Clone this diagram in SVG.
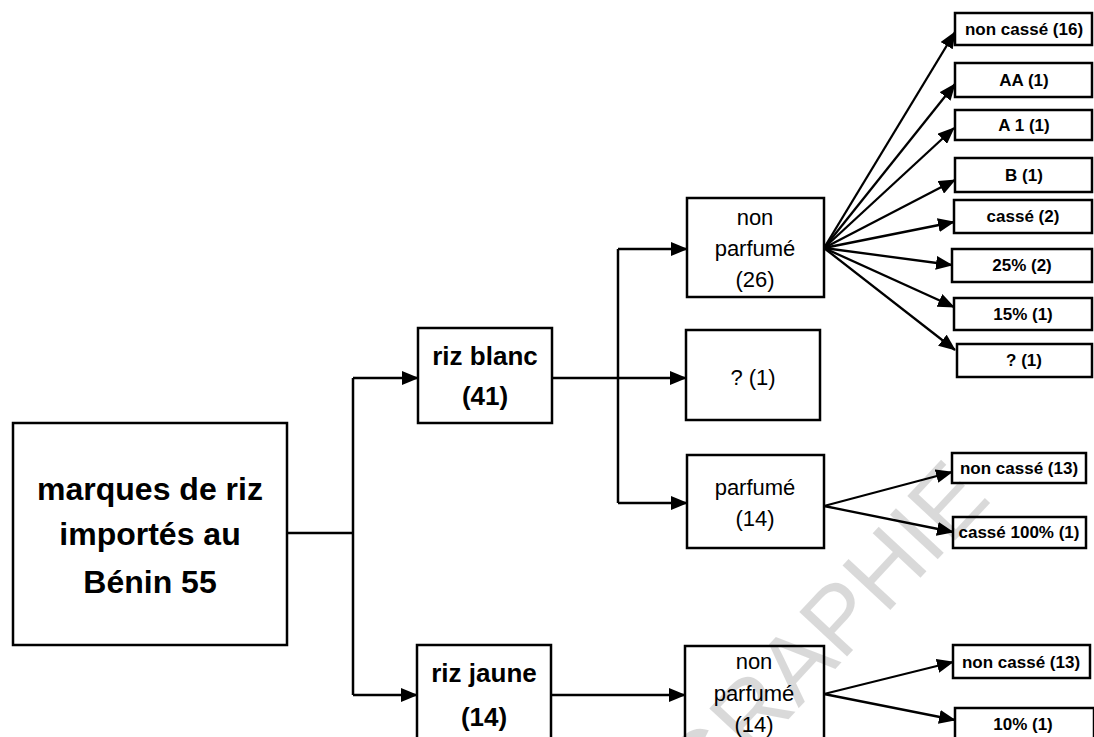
<svg xmlns="http://www.w3.org/2000/svg" width="1094" height="737" viewBox="0 0 1094 737">
<defs>
<marker id="ah" markerUnits="userSpaceOnUse" markerWidth="17" markerHeight="14" refX="16" refY="7" orient="auto">
<path d="M0,0 L17,7 L0,14 z" fill="#000"/>
</marker>
<style>
.box{fill:#fff;stroke:#000;stroke-width:2.5}
.ln{fill:none;stroke:#000;stroke-width:2.5}
.ar{fill:none;stroke:#000;stroke-width:2.3;marker-end:url(#ah)}
text{font-family:"Liberation Sans",Arial,sans-serif;text-anchor:middle;fill:#000}
.t1{font-size:32px;font-weight:bold}
.t2{font-size:26px;font-weight:bold}
.t3{font-size:22px}
.t4{font-size:17px;font-weight:bold}
.wm{font-size:95px;fill:#000;fill-opacity:0.15;text-anchor:end}
</style>
</defs>
<rect width="1094" height="737" fill="#fff"/>
<g id="connectors">
<path class="ln" d="M287,533 H353 M353,378 V695"/>
<path class="ar" d="M353,378 H418"/>
<path class="ar" d="M353,695 H417"/>
<path class="ln" d="M618,249 V503"/>
<path class="ar" d="M552,378 H686"/>
<path class="ar" d="M618,249 H687"/>
<path class="ar" d="M618,503 H687"/>
<path class="ar" d="M551,695 H685"/>
<path class="ar" d="M824,248 L955,32"/>
<path class="ar" d="M824,248 L955,84"/>
<path class="ar" d="M824,248 L954,128"/>
<path class="ar" d="M824,248 L955,180"/>
<path class="ar" d="M824,248 L954,222"/>
<path class="ar" d="M824,248 L952,265"/>
<path class="ar" d="M824,248 L954,307"/>
<path class="ar" d="M824,248 L955,350"/>
<path class="ar" d="M824,506 L952,472"/>
<path class="ar" d="M824,506 L953,532"/>
<path class="ar" d="M824,694 L953,662"/>
<path class="ar" d="M824,694 L955,720"/>
</g>
<g id="root"><rect class="box" x="13" y="423" width="274" height="222"/>
<text class="t1" x="150" y="500">marques de riz</text><text class="t1" x="150" y="545">importés au</text><text class="t1" x="150" y="593">Bénin 55</text></g>
<g id="riz-blanc"><rect class="box" x="418" y="328" width="134" height="95"/>
<text class="t2" x="485" y="365">riz blanc</text><text class="t2" x="485" y="405">(41)</text></g>
<g id="riz-jaune"><rect class="box" x="417" y="645" width="134" height="120"/>
<text class="t2" x="484" y="682">riz jaune</text><text class="t2" x="484" y="726">(14)</text></g>
<g id="non-parfume-26"><rect class="box" x="687" y="198" width="137" height="99"/>
<text class="t3" x="755" y="225">non</text><text class="t3" x="755" y="256">parfumé</text><text class="t3" x="755" y="287">(26)</text></g>
<g id="inconnu-blanc"><rect class="box" x="686" y="330" width="134" height="90"/>
<text class="t3" x="753" y="385">? (1)</text></g>
<g id="parfume-14"><rect class="box" x="687" y="455" width="137" height="93"/>
<text class="t3" x="755" y="495">parfumé</text><text class="t3" x="755" y="526">(14)</text></g>
<g id="non-parfume-14"><rect class="box" x="685" y="646" width="139" height="120"/>
<text class="t3" x="754" y="669">non</text><text class="t3" x="754" y="701">parfumé</text><text class="t3" x="754" y="732">(14)</text></g>
<g id="n1"><rect class="box" x="955" y="13" width="137" height="32"/><text class="t4" x="1024" y="35">non cassé (16)</text></g>
<g id="n2"><rect class="box" x="955" y="63" width="137" height="34"/><text class="t4" x="1024" y="86">AA (1)</text></g>
<g id="n3"><rect class="box" x="955" y="110" width="137" height="30"/><text class="t4" x="1024" y="131">A 1 (1)</text></g>
<g id="n4"><rect class="box" x="955" y="158" width="137" height="34"/><text class="t4" x="1024" y="181">B (1)</text></g>
<g id="n5"><rect class="box" x="954" y="200" width="138" height="33"/><text class="t4" x="1023" y="222">cassé (2)</text></g>
<g id="n6"><rect class="box" x="952" y="249" width="140" height="33"/><text class="t4" x="1022" y="271">25% (2)</text></g>
<g id="n7"><rect class="box" x="954" y="298" width="138" height="32"/><text class="t4" x="1023" y="320">15% (1)</text></g>
<g id="n8"><rect class="box" x="957" y="344" width="135" height="33"/><text class="t4" x="1024" y="366">? (1)</text></g>
<g id="p1"><rect class="box" x="952" y="453" width="134" height="30"/><text class="t4" x="1019" y="474">non cassé (13)</text></g>
<g id="p2"><rect class="box" x="953" y="517" width="133" height="31"/><text class="t4" x="1019" y="538">cassé 100% (1)</text></g>
<g id="j1"><rect class="box" x="953" y="645" width="137" height="33"/><text class="t4" x="1021" y="668">non cassé (13)</text></g>
<g id="j2"><rect class="box" x="955" y="708" width="139" height="60"/><text class="t4" x="1023" y="730">10% (1)</text></g>
<text class="wm" transform="translate(993,500) rotate(-47)">GRAPHIE</text>
</svg>
